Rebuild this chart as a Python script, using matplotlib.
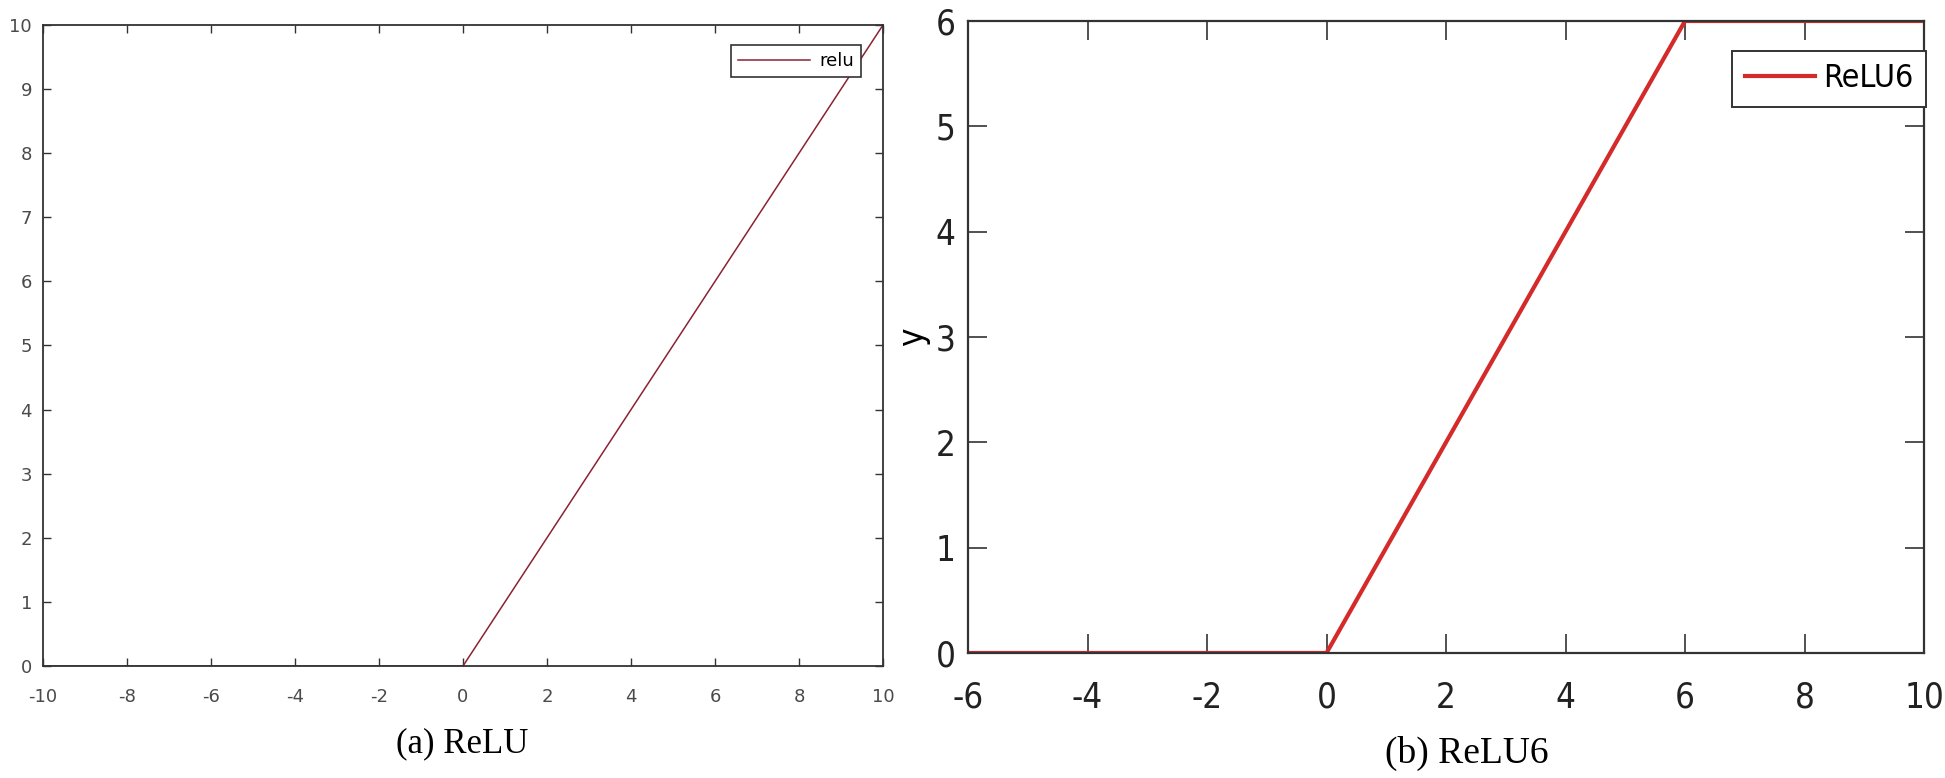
import numpy as np
import matplotlib
matplotlib.use("Agg")
import matplotlib.pyplot as plt

plt.rcParams['axes.unicode_minus'] = False
plt.rcParams['font.family'] = ['DejaVu Sans']

# data
relu_x = [-10, 0, 10]
relu_y = [0, 0, 10]
relu6_x = [-6, 0, 6, 10]
relu6_y = [0, 0, 6, 6]

W, H = 1945, 778
fig = plt.figure(figsize=(W / 100, H / 100), dpi=100)

def px_axes(l, t, r, b):
    return fig.add_axes([l / W, (H - b) / H, (r - l) / W, (b - t) / H])

### (a) ReLU ###
ax1 = px_axes(43, 25, 883, 666)
ax1.plot(relu_x, relu_y, color='#8c2233', lw=1.1, label='relu')
ax1.set_xlim(-10, 10)
ax1.set_ylim(0, 10)
ax1.set_xticks(np.arange(-10, 11, 2))
ax1.set_yticks(np.arange(0, 11, 1))
ax1.tick_params(direction='in', length=6, width=1, top=True, right=True,
                labelsize=13, labelcolor='#4a4a4a', color='#333333')
ax1.tick_params(axis='x', pad=16)
ax1.tick_params(axis='y', pad=8)
for s in ax1.spines.values():
    s.set_linewidth(1.3)
    s.set_color('#333333')
leg1 = ax1.legend(loc='upper right', bbox_to_anchor=(0.974, 0.969), fontsize=13,
                  fancybox=False, edgecolor='#333333', framealpha=1, borderaxespad=0,
                  handlelength=4.0, borderpad=0.4, handletextpad=0.5)
leg1.get_frame().set_linewidth(1.2)
fig.text(462 / W, 1 - 744 / H, '(a) ReLU', family='Liberation Serif', fontsize=25,
         ha='center', va='center')

### (b) ReLU6 ###
ax2 = px_axes(968, 21, 1924, 653)
ax2.plot(relu6_x, relu6_y, color='#d42a2a', lw=3, label='ReLU6')
ax2.set_xlim(-6, 10)
ax2.set_ylim(0, 6)
ax2.set_xticks(np.arange(-6, 11, 2))
ax2.set_yticks(np.arange(0, 7, 1))
ax2.tick_params(direction='in', length=14, width=1.2, top=True, right=True,
                labelsize=25, labelcolor='#222222', color='#333333')
ax2.tick_params(axis='x', pad=20)
ax2.tick_params(axis='y', pad=9)
for lab in ax2.get_xticklabels() + ax2.get_yticklabels():
    lab.set_stretch('condensed')
for s in ax2.spines.values():
    s.set_linewidth(1.6)
    s.set_color('#333333')
ax2.set_ylabel('y', stretch='condensed', fontsize=25, labelpad=4)
leg2 = ax2.legend(loc='upper right', bbox_to_anchor=(1.002, 0.953),
                  prop={'stretch': 'condensed', 'size': 23},
                  fancybox=False, edgecolor='#333333', framealpha=1, borderaxespad=0,
                  handlelength=2.2, borderpad=0.4, handletextpad=0.25)
leg2.get_frame().set_linewidth(1.4)
fig.text(1467 / W, 1 - 753 / H, '(b) ReLU6', family='Liberation Serif', fontsize=27,
         ha='center', va='center')

fig.savefig('out.png', dpi=100)
